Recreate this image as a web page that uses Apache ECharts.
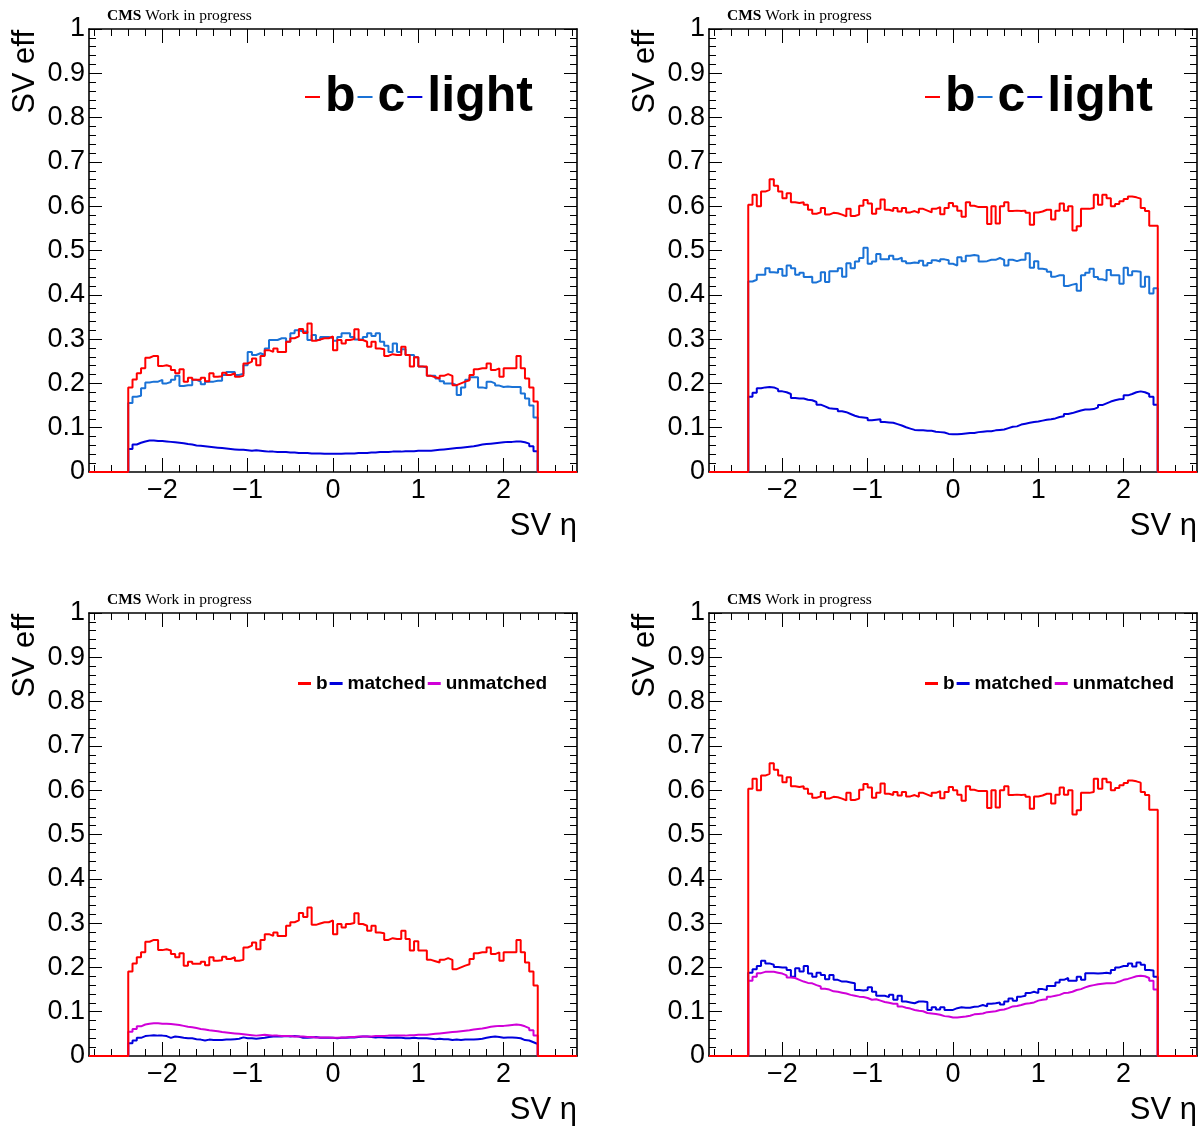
<!DOCTYPE html>
<html><head><meta charset="utf-8">
<script src="https://cdn.jsdelivr.net/npm/echarts@6/dist/echarts.min.js"></script>
<style>html,body{margin:0;padding:0;background:#fff}#c{width:1199px;height:1127px}</style>
</head><body><div id="c"></div>
<script>
// ---------------- data ----------------
const ETA_MIN = -2.86, ETA_MAX = 2.86;
const BIN_LO = -2.4, BIN_W = 0.05;          // 96 bins from -2.4 to 2.4
const xMajorTicks = [-2, -1, 0, 1, 2];
const xMinorTicks = [-2.8,-2.6,-2.4,-2.2,-2.0,-1.8,-1.6,-1.4,-1.2,-1.0,-0.8,-0.6,-0.4,-0.2,0,0.2,0.4,0.6,0.8,1.0,1.2,1.4,1.6,1.8,2.0,2.2,2.4,2.6,2.8];

const bLeft = [0.191,0.209,0.223,0.234,0.258,0.262,0.262,0.239,0.241,0.238, 0.230,0.223,0.232,0.204,0.213,0.208,0.208,0.213,0.205,0.223,
  0.215,0.216,0.224,0.219,0.223,0.215,0.217,0.245,0.249,0.256, 0.241,0.262,0.275,0.271,0.279,0.271,0.271,0.294,0.302,0.306,
  0.323,0.314,0.335,0.296,0.299,0.302,0.302,0.306,
  0.275,0.298,0.290,0.298,0.300,0.322,0.298,0.294,0.283,0.294, 0.279,0.277,0.262,0.266,0.264,0.264,0.283,0.264,0.238,0.259,
  0.238,0.238,0.217,0.214,0.211,0.217,0.221,0.217,0.196,0.200, 0.204,0.207,0.219,0.232,0.234,0.234,0.245,0.230,0.234,0.215,
  0.234,0.234,0.234,0.262,0.234,0.211,0.191,0.159];
const cLeft = [0.156,0.170,0.172,0.189,0.202,0.204,0.204,0.208,0.200,0.203, 0.208,0.217,0.194,0.196,0.196,0.208,0.204,0.198,0.204,0.204,
  0.206,0.206,0.219,0.226,0.226,0.219,0.222,0.241,0.271,0.264, 0.268,0.264,0.279,0.298,0.298,0.302,0.302,0.294,0.313,0.320,
  0.317,0.317,0.298,0.309,0.298,0.305,0.305,0.302,
  0.296,0.305,0.313,0.313,0.305,0.299,0.299,0.305,0.313,0.307, 0.313,0.294,0.285,0.271,0.290,0.271,0.277,0.264,0.264,0.259,
  0.238,0.236,0.217,0.217,0.211,0.205,0.200,0.200,0.196,0.174, 0.191,0.208,0.214,0.214,0.191,0.189,0.204,0.200,0.195,0.192,
  0.193,0.192,0.192,0.192,0.177,0.166,0.150,0.123];
const lightLeft = [0.052,0.062,0.066,0.069,0.071,0.071,0.070,0.070,0.069,0.068, 0.067,0.066,0.065,0.063,0.062,0.060,0.059,0.058,0.057,0.056,
  0.055,0.054,0.053,0.052,0.051,0.050,0.050,0.049,0.048,0.049, 0.048,0.047,0.046,0.046,0.045,0.045,0.045,0.044,0.044,0.043,
  0.043,0.043,0.042,0.042,0.042,0.041,0.041,0.041,
  0.041,0.041,0.042,0.042,0.042,0.043,0.043,0.043,0.044,0.044, 0.045,0.045,0.045,0.046,0.046,0.046,0.047,0.047,0.047,0.048,
  0.048,0.048,0.048,0.049,0.050,0.051,0.052,0.053,0.054,0.055, 0.056,0.057,0.058,0.060,0.062,0.063,0.064,0.065,0.066,0.067,
  0.068,0.068,0.069,0.069,0.067,0.064,0.058,0.047];
const bRight = [0.603,0.626,0.600,0.633,0.637,0.661,0.646,0.633,0.618,0.629, 0.609,0.607,0.609,0.603,0.592,0.583,0.586,0.596,0.581,0.585,
  0.584,0.581,0.577,0.594,0.578,0.581,0.601,0.614,0.606,0.583, 0.594,0.615,0.592,0.589,0.596,0.588,0.596,0.586,0.589,0.585,
  0.594,0.590,0.586,0.594,0.598,0.582,0.596,0.607,
  0.600,0.590,0.576,0.609,0.601,0.598,0.598,0.598,0.560,0.600, 0.561,0.600,0.609,0.589,0.590,0.589,0.590,0.585,0.558,0.586,
  0.588,0.592,0.592,0.570,0.590,0.606,0.590,0.600,0.545,0.555, 0.594,0.594,0.596,0.626,0.603,0.626,0.618,0.600,0.605,0.611,
  0.616,0.622,0.620,0.617,0.596,0.589,0.556,0.556];
const cRight = [0.430,0.434,0.445,0.445,0.460,0.451,0.450,0.458,0.443,0.466, 0.460,0.445,0.450,0.440,0.441,0.428,0.432,0.451,0.429,0.453,
  0.453,0.460,0.441,0.471,0.460,0.475,0.483,0.506,0.470,0.475, 0.492,0.480,0.480,0.488,0.480,0.484,0.476,0.471,0.473,0.472,
  0.477,0.466,0.472,0.478,0.475,0.480,0.478,0.470,
  0.466,0.485,0.476,0.488,0.490,0.488,0.475,0.476,0.479,0.479, 0.483,0.479,0.466,0.479,0.476,0.479,0.479,0.494,0.461,0.476,
  0.459,0.457,0.452,0.441,0.444,0.444,0.420,0.423,0.425,0.409, 0.444,0.450,0.459,0.440,0.435,0.432,0.456,0.444,0.444,0.425,
  0.461,0.444,0.453,0.452,0.418,0.441,0.403,0.415];
const lightRight = [0.170,0.179,0.189,0.191,0.192,0.191,0.187,0.182,0.180,0.176, 0.167,0.166,0.166,0.163,0.162,0.158,0.152,0.148,0.144,0.143,
  0.142,0.137,0.135,0.131,0.127,0.124,0.123,0.122,0.117,0.118, 0.119,0.113,0.112,0.111,0.108,0.105,0.101,0.098,0.095,0.094,
  0.094,0.093,0.093,0.091,0.090,0.089,0.086,0.085,
  0.085,0.086,0.087,0.088,0.088,0.090,0.091,0.092,0.092,0.094, 0.095,0.096,0.099,0.102,0.103,0.107,0.109,0.111,0.113,0.114,
  0.116,0.118,0.119,0.121,0.124,0.126,0.131,0.133,0.136,0.139, 0.141,0.141,0.142,0.146,0.151,0.155,0.159,0.162,0.164,0.165,
  0.173,0.176,0.180,0.182,0.180,0.176,0.170,0.152];
const matchedLeft = [0.029,0.035,0.041,0.045,0.046,0.047,0.046,0.046,0.045,0.041, 0.044,0.043,0.041,0.040,0.040,0.038,0.037,0.035,0.037,0.036,
  0.036,0.036,0.037,0.037,0.038,0.039,0.042,0.040,0.040,0.039, 0.040,0.041,0.043,0.044,0.044,0.044,0.045,0.044,0.045,0.044,
  0.041,0.041,0.042,0.043,0.041,0.041,0.041,0.041,
  0.040,0.041,0.041,0.042,0.042,0.043,0.044,0.044,0.043,0.042, 0.043,0.042,0.041,0.041,0.042,0.041,0.040,0.040,0.041,0.040,
  0.040,0.040,0.039,0.038,0.039,0.038,0.038,0.036,0.037,0.036, 0.037,0.037,0.037,0.038,0.039,0.041,0.043,0.044,0.043,0.041,
  0.042,0.042,0.041,0.040,0.036,0.035,0.031,0.027];
const unmatchedLeft = [0.055,0.061,0.067,0.071,0.073,0.074,0.074,0.073,0.073,0.072, 0.071,0.070,0.068,0.066,0.065,0.063,0.061,0.060,0.058,0.057,
  0.056,0.054,0.053,0.052,0.051,0.050,0.049,0.048,0.047,0.046, 0.047,0.048,0.047,0.046,0.046,0.045,0.045,0.045,0.044,0.044,
  0.044,0.043,0.043,0.042,0.042,0.042,0.042,0.041,
  0.041,0.042,0.042,0.043,0.043,0.044,0.044,0.044,0.044,0.045, 0.045,0.045,0.046,0.046,0.046,0.046,0.046,0.047,0.047,0.048,
  0.048,0.048,0.049,0.050,0.051,0.052,0.053,0.054,0.055,0.056, 0.057,0.058,0.060,0.061,0.062,0.064,0.066,0.067,0.068,0.068,
  0.069,0.070,0.071,0.070,0.067,0.063,0.058,0.046];
const matchedRight = [0.188,0.196,0.203,0.215,0.209,0.206,0.201,0.200,0.200,0.194, 0.179,0.198,0.191,0.203,0.186,0.179,0.188,0.183,0.173,0.183,
  0.172,0.168,0.168,0.166,0.164,0.149,0.148,0.149,0.155,0.145, 0.136,0.136,0.133,0.138,0.127,0.136,0.123,0.121,0.119,0.123,
  0.123,0.122,0.104,0.110,0.105,0.110,0.104,0.104,
  0.108,0.110,0.109,0.109,0.111,0.112,0.115,0.112,0.118,0.119, 0.121,0.116,0.123,0.130,0.125,0.134,0.136,0.142,0.145,0.142,
  0.151,0.149,0.158,0.158,0.166,0.172,0.176,0.170,0.170,0.179, 0.172,0.187,0.187,0.186,0.187,0.188,0.186,0.194,0.200,0.203,
  0.203,0.209,0.202,0.211,0.206,0.194,0.193,0.179];
const unmatchedRight = [0.170,0.179,0.187,0.190,0.190,0.190,0.188,0.186,0.182,0.177, 0.176,0.172,0.168,0.165,0.164,0.160,0.157,0.152,0.150,0.146,
  0.145,0.143,0.141,0.138,0.136,0.134,0.133,0.131,0.127,0.128, 0.125,0.122,0.120,0.118,0.118,0.112,0.109,0.107,0.104,0.102,
  0.101,0.097,0.096,0.095,0.093,0.090,0.089,0.087,
  0.087,0.088,0.089,0.091,0.094,0.095,0.096,0.099,0.100,0.101, 0.104,0.105,0.108,0.112,0.113,0.115,0.118,0.119,0.121,0.125,
  0.127,0.128,0.134,0.136,0.138,0.142,0.143,0.145,0.149,0.151, 0.155,0.158,0.160,0.162,0.163,0.164,0.164,0.165,0.168,0.172,
  0.174,0.177,0.180,0.181,0.180,0.176,0.170,0.150];

// ---------------- styling / layout ----------------
const COL = { b: '#ff0000', c: '#1a72d6', light: '#0000dd', matched: '#0000dd', unmatched: '#d000d8' };
const FONT = "'Liberation Sans', Arial, Helvetica, sans-serif";
const SERIF = "'Liberation Serif', 'Times New Roman', serif";
const PANELS = [
  { left: 89, top: 29, series: [['light', lightLeft], ['c', cLeft], ['b', bLeft]], legend: 'big', lx: 305 },
  { left: 709, top: 29, series: [['light', lightRight], ['c', cRight], ['b', bRight]], legend: 'big', lx: 925 },
  { left: 89, top: 613, series: [['matched', matchedLeft], ['unmatched', unmatchedLeft], ['b', bLeft]], legend: 'small', lx: 298 },
  { left: 709, top: 613, series: [['matched', matchedRight], ['unmatched', unmatchedRight], ['b', bRight]], legend: 'small', lx: 925 }
];
const GW = 488, GH = 443;

function histPoints(vals) {
  const pts = [[ETA_MIN, 0]];
  vals.forEach((v, i) => pts.push([+(BIN_LO + i * BIN_W).toFixed(4), v]));
  pts.push([+(BIN_LO + vals.length * BIN_W).toFixed(4), 0]);
  pts.push([ETA_MAX, 0]);
  return pts;
}
const fmtX = v => (v < 0 ? '\u2212' + Math.abs(v) : String(v));
const fmtY = v => String(Math.round(v * 10) / 10);

const grid = [], xAxis = [], yAxis = [], series = [], legend = [], graphic = [];
PANELS.forEach((p, g) => {
  grid.push({ left: p.left, top: p.top, width: GW, height: GH, containLabel: false, outerBoundsMode: 'none' });
  const baseX = { gridIndex: g, type: 'value', min: ETA_MIN, max: ETA_MAX, splitLine: { show: false } };
  const line = { show: true, onZero: false, lineStyle: { color: '#000', width: 1.6 } };
  const noLine = { show: false, onZero: false };
  xAxis.push(Object.assign({}, baseX, { position: 'bottom', axisLine: line,
    axisTick: { show: true, inside: true, length: 14, customValues: xMajorTicks, lineStyle: { color: '#000', width: 1 } },
    axisLabel: { show: true, customValues: xMajorTicks, formatter: fmtX, color: '#000', fontSize: 27, fontFamily: FONT, margin: 5 } }));
  xAxis.push(Object.assign({}, baseX, { position: 'bottom', axisLine: noLine,
    axisTick: { show: true, inside: true, length: 7, customValues: xMinorTicks, lineStyle: { color: '#000', width: 1 } },
    axisLabel: { show: false } }));
  xAxis.push(Object.assign({}, baseX, { position: 'top', axisLine: line,
    axisTick: { show: true, inside: true, length: 14, customValues: xMajorTicks, lineStyle: { color: '#000', width: 1 } },
    axisLabel: { show: false } }));
  xAxis.push(Object.assign({}, baseX, { position: 'top', axisLine: noLine,
    axisTick: { show: true, inside: true, length: 7, customValues: xMinorTicks, lineStyle: { color: '#000', width: 1 } },
    axisLabel: { show: false } }));
  const baseY = { gridIndex: g, type: 'value', min: 0, max: 1, interval: 0.1, splitLine: { show: false },
    axisLine: line, minorSplitLine: { show: false },
    axisTick: { show: true, inside: true, length: 13, lineStyle: { color: '#000', width: 1 } },
    minorTick: { show: true, splitNumber: 5, length: 7, lineStyle: { color: '#000', width: 1 } } };
  yAxis.push(Object.assign({}, baseY, { position: 'left',
    axisLabel: { show: true, formatter: fmtY, color: '#000', fontSize: 27, fontFamily: FONT, margin: 4 } }));
  yAxis.push(Object.assign({}, baseY, { position: 'right', axisLabel: { show: false } }));

  p.series.forEach(([name, vals]) => {
    series.push({ type: 'line', name, xAxisIndex: 4 * g, yAxisIndex: 2 * g, data: histPoints(vals),
      step: 'end', showSymbol: false, symbol: 'none', color: COL[name],
      lineStyle: { color: COL[name], width: 2 }, animation: false, silent: true });
  });

  const big = p.legend === 'big';
  legend.push({ left: p.lx, top: big ? p.top + 43 : p.top + 61, orient: 'horizontal', selectedMode: false,
    icon: 'rect', itemWidth: big ? 15 : 13, itemHeight: big ? 2 : 3, itemGap: big ? 2 : 2, padding: 0,
    data: big ? ['b', 'c', 'light'] : ['b', 'matched', 'unmatched'],
    textStyle: { color: '#000', fontFamily: FONT, fontWeight: 'bold', fontSize: big ? 50 : 19 } });

  graphic.push({ type: 'text', x: p.left - 64, y: p.top + 1, rotation: Math.PI / 2, silent: true,
    style: { text: 'SV eff', fill: '#000', font: '31px ' + FONT, align: 'right', verticalAlign: 'middle' } });
  graphic.push({ type: 'text', x: p.left + GW, y: p.top + GH + 54, silent: true,
    style: { text: 'SV \u03b7', fill: '#000', font: '31px ' + FONT, align: 'right', verticalAlign: 'middle' } });
  graphic.push({ type: 'text', x: p.left + 18, y: p.top - 13, silent: true,
    style: { text: '{b|CMS} Work in progress', fill: '#000', fontFamily: SERIF, fontSize: 15.5, verticalAlign: 'middle',
      rich: { b: { fontFamily: SERIF, fontSize: 15.5, fontWeight: 'bold', fill: '#000' } } } });
});

const chart = echarts.init(document.getElementById('c'), null, { renderer: 'canvas' });
chart.setOption({ backgroundColor: '#fff', animation: false, grid, xAxis, yAxis, series, legend, graphic });
</script></body></html>
